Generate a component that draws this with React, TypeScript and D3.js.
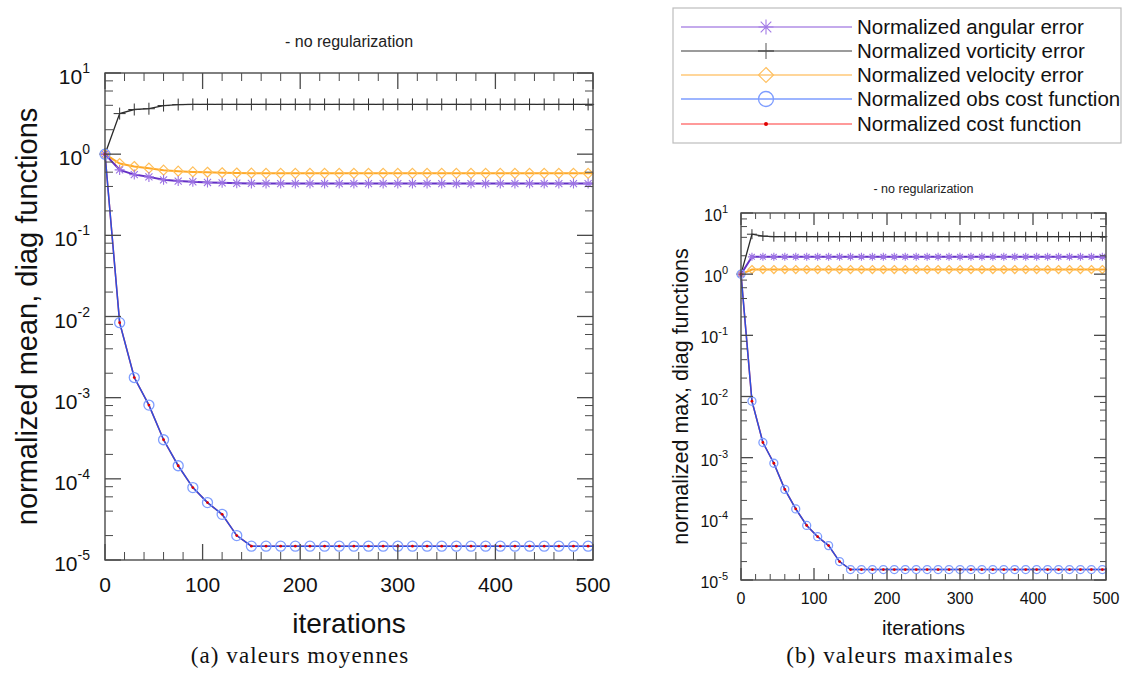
import React from "react";
import * as d3 from "d3";

// ---------- DATA ----------
const iterations = [0, 15, 30, 45, 60, 75, 90, 105, 120, 135, 150, 165, 180, 195, 210, 225, 240, 255, 270, 285, 300, 315, 330, 345, 360, 375, 390, 405, 420, 435, 450, 465, 480, 495, 500];

const meanAngular = [1.0, 0.64, 0.56, 0.525, 0.483, 0.466, 0.457, 0.448, 0.443, 0.438, 0.436, 0.435, 0.434, 0.434, 0.434, 0.434, 0.434, 0.434, 0.434, 0.434, 0.434, 0.434, 0.434, 0.434, 0.434, 0.434, 0.434, 0.434, 0.434, 0.434, 0.434, 0.434, 0.434, 0.434, 0.434];
const meanVorticity = [1.0, 3.16, 3.55, 3.63, 3.97, 4.08, 4.1, 4.1, 4.1, 4.1, 4.1, 4.1, 4.1, 4.1, 4.1, 4.1, 4.1, 4.1, 4.1, 4.1, 4.1, 4.1, 4.1, 4.1, 4.1, 4.1, 4.1, 4.1, 4.1, 4.1, 4.1, 4.1, 4.1, 4.1, 4.1];
const meanVelocity = [1.0, 0.766, 0.704, 0.672, 0.635, 0.617, 0.605, 0.598, 0.59, 0.586, 0.583, 0.581, 0.58, 0.58, 0.58, 0.58, 0.58, 0.58, 0.58, 0.58, 0.58, 0.58, 0.58, 0.58, 0.58, 0.58, 0.58, 0.58, 0.58, 0.58, 0.58, 0.58, 0.58, 0.58, 0.58];
const meanObsCost = [1.0, 0.0084, 0.00177, 0.00081, 0.000303, 0.000145, 0.000078, 0.000051, 0.0000365, 0.00002, 0.0000148, 0.0000148, 0.0000148, 0.0000148, 0.0000148, 0.0000148, 0.0000148, 0.0000148, 0.0000148, 0.0000148, 0.0000148, 0.0000148, 0.0000148, 0.0000148, 0.0000148, 0.0000148, 0.0000148, 0.0000148, 0.0000148, 0.0000148, 0.0000148, 0.0000148, 0.0000148, 0.0000148, 0.0000148];
const meanCost = [1.0, 0.0084, 0.00177, 0.00081, 0.000303, 0.000145, 0.000078, 0.000051, 0.0000365, 0.00002, 0.0000148, 0.0000148, 0.0000148, 0.0000148, 0.0000148, 0.0000148, 0.0000148, 0.0000148, 0.0000148, 0.0000148, 0.0000148, 0.0000148, 0.0000148, 0.0000148, 0.0000148, 0.0000148, 0.0000148, 0.0000148, 0.0000148, 0.0000148, 0.0000148, 0.0000148, 0.0000148, 0.0000148, 0.0000148];

const maxAngular = [1.0, 1.92, 1.92, 1.92, 1.92, 1.92, 1.92, 1.92, 1.92, 1.92, 1.92, 1.92, 1.92, 1.92, 1.92, 1.92, 1.92, 1.92, 1.92, 1.92, 1.92, 1.92, 1.92, 1.92, 1.92, 1.92, 1.92, 1.92, 1.92, 1.92, 1.92, 1.92, 1.92, 1.92, 1.92];
const maxVorticity = [1.0, 4.5, 4.2, 4.1, 4.1, 4.1, 4.1, 4.1, 4.1, 4.1, 4.1, 4.1, 4.1, 4.1, 4.1, 4.1, 4.1, 4.1, 4.1, 4.1, 4.1, 4.1, 4.1, 4.1, 4.1, 4.1, 4.1, 4.1, 4.1, 4.1, 4.1, 4.1, 4.1, 4.1, 4.1];
const maxVelocity = [1.0, 1.19, 1.19, 1.19, 1.19, 1.19, 1.19, 1.19, 1.19, 1.19, 1.19, 1.19, 1.19, 1.19, 1.19, 1.19, 1.19, 1.19, 1.19, 1.19, 1.19, 1.19, 1.19, 1.19, 1.19, 1.19, 1.19, 1.19, 1.19, 1.19, 1.19, 1.19, 1.19, 1.19, 1.19];
const maxObsCost = [1.0, 0.0084, 0.00177, 0.00081, 0.000303, 0.000145, 0.000078, 0.000051, 0.0000365, 0.00002, 0.0000148, 0.0000148, 0.0000148, 0.0000148, 0.0000148, 0.0000148, 0.0000148, 0.0000148, 0.0000148, 0.0000148, 0.0000148, 0.0000148, 0.0000148, 0.0000148, 0.0000148, 0.0000148, 0.0000148, 0.0000148, 0.0000148, 0.0000148, 0.0000148, 0.0000148, 0.0000148, 0.0000148, 0.0000148];
const maxCost = [1.0, 0.0084, 0.00177, 0.00081, 0.000303, 0.000145, 0.000078, 0.000051, 0.0000365, 0.00002, 0.0000148, 0.0000148, 0.0000148, 0.0000148, 0.0000148, 0.0000148, 0.0000148, 0.0000148, 0.0000148, 0.0000148, 0.0000148, 0.0000148, 0.0000148, 0.0000148, 0.0000148, 0.0000148, 0.0000148, 0.0000148, 0.0000148, 0.0000148, 0.0000148, 0.0000148, 0.0000148, 0.0000148, 0.0000148];

const xTicks = [0, 100, 200, 300, 400, 500];
const yExponents = [-5, -4, -3, -2, -1, 0, 1];
const legendLabels = [
  "Normalized angular error",
  "Normalized vorticity error",
  "Normalized velocity error",
  "Normalized obs cost function",
  "Normalized cost function",
];
const plotTitle = "- no regularization";
const xTitle = "iterations";

const SANS = "'Liberation Sans', Arial, Helvetica, sans-serif";
const SERIF = "'Liberation Serif', 'Times New Roman', serif";

type Geo = {
  x0: number; x1: number; y0: number; y1: number;
  major: number; minor: number;
  tickFont: number; expFont: number; labelGap: number; labelBase: number; expDy: number;
  xLabelBase: number;
  yTitle: string; yTitleX: number; yTitleFont: number;
  xTitleY: number; xTitleFont: number;
  titleY: number; titleFont: number;
  caption: string; captionX: number;
  mk: number;
};

function Star({ x, y, r, color, w }: any) {
  const d = r * 0.7071;
  return (
    <path
      d={`M${x - r},${y}L${x + r},${y}M${x},${y - r}L${x},${y + r}M${x - d},${y - d}L${x + d},${y + d}M${x - d},${y + d}L${x + d},${y - d}`}
      stroke={color} strokeWidth={w} fill="none" />
  );
}
function Plus({ x, y, r, color, w }: any) {
  return <path d={`M${x - r},${y}L${x + r},${y}M${x},${y - r}L${x},${y + r}`} stroke={color} strokeWidth={w} fill="none" />;
}
function Diamond({ x, y, r, color, w }: any) {
  return <path d={`M${x},${y - r}L${x + r},${y}L${x},${y + r}L${x - r},${y}Z`} stroke={color} strokeWidth={w} fill="none" />;
}

function Panel({ g, angular, vorticity, velocity, obs, cost }: any) {
  const geo: Geo = g;
  const x = d3.scaleLinear().domain([0, 500]).range([geo.x0, geo.x1]);
  const y = d3.scaleLog().domain([1e-5, 10]).range([geo.y1, geo.y0]);
  const line = (vals: number[]) =>
    d3.line<number>().x((_, i) => x(iterations[i])).y((v) => y(v))(vals) || "";
  const idx = iterations.map((_, i) => i).filter((i) => iterations[i] % 15 === 0);
  const axisColor = "#4a4a4a";

  const minorX = d3.range(0, 501, 20).filter((v) => v % 100 !== 0);
  const minorY: number[] = [];
  yExponents.slice(0, -1).forEach((e) => [2, 4, 6, 8].forEach((m) => minorY.push(m * Math.pow(10, e))));

  const { x0, x1, y0, y1 } = geo;
  return (
    <g>
      <text x={(x0 + x1) / 2} y={geo.titleY} textAnchor="middle" fontFamily={SANS} fontSize={geo.titleFont} fill="#222">{plotTitle}</text>

      {/* data */}
      <path d={line(cost)} stroke="#ff4040" strokeWidth={1.5} fill="none" />
      <path d={line(vorticity)} stroke="#2a2a2a" strokeWidth={1.3} fill="none" />
      {idx.map((i) => <Plus key={"p" + i} x={x(iterations[i])} y={y(vorticity[i])} r={geo.mk + 1} color="#333" w={1} />)}
      <path d={line(velocity)} stroke="#ffa928" strokeWidth={2} fill="none" />
      {idx.map((i) => <Diamond key={"d" + i} x={x(iterations[i])} y={y(velocity[i])} r={geo.mk} color="#ffbf5a" w={1.2} />)}
      <path d={line(angular)} stroke="#6330c4" strokeWidth={2} fill="none" />
      {idx.map((i) => <Star key={"s" + i} x={x(iterations[i])} y={y(angular[i])} r={geo.mk} color="#9c72e4" w={1.1} />)}
      <path d={line(obs)} stroke="#2b4fe0" strokeWidth={1.5} fill="none" />
      {idx.map((i) => <circle key={"c" + i} cx={x(iterations[i])} cy={y(obs[i])} r={geo.mk} stroke="#7f9eff" strokeWidth={1.3} fill="none" />)}
      {idx.map((i) => <circle key={"r" + i} cx={x(iterations[i])} cy={y(cost[i])} r={1.4} fill="#e00000" />)}

      {/* frame & ticks */}
      <rect x={x0} y={y0} width={x1 - x0} height={y1 - y0} fill="none" stroke={axisColor} strokeWidth={1.4} />
      {xTicks.map((t) => (
        <g key={"xt" + t} stroke={axisColor} strokeWidth={1.3}>
          <line x1={x(t)} x2={x(t)} y1={y1} y2={y1 - geo.major} />
          <line x1={x(t)} x2={x(t)} y1={y0} y2={y0 + geo.major} />
        </g>
      ))}
      {minorX.map((t) => (
        <g key={"xm" + t} stroke={axisColor} strokeWidth={1}>
          <line x1={x(t)} x2={x(t)} y1={y1} y2={y1 - geo.minor} />
          <line x1={x(t)} x2={x(t)} y1={y0} y2={y0 + geo.minor} />
        </g>
      ))}
      {yExponents.map((e) => (
        <g key={"yt" + e} stroke={axisColor} strokeWidth={1.3}>
          <line x1={x0} x2={x0 + geo.major} y1={y(Math.pow(10, e))} y2={y(Math.pow(10, e))} />
          <line x1={x1} x2={x1 - geo.major} y1={y(Math.pow(10, e))} y2={y(Math.pow(10, e))} />
        </g>
      ))}
      {minorY.map((v, k) => (
        <g key={"ym" + k} stroke={axisColor} strokeWidth={1}>
          <line x1={x0} x2={x0 + geo.minor} y1={y(v)} y2={y(v)} />
          <line x1={x1} x2={x1 - geo.minor} y1={y(v)} y2={y(v)} />
        </g>
      ))}

      {/* tick labels */}
      {xTicks.map((t) => (
        <text key={"xl" + t} x={x(t)} y={geo.xLabelBase} textAnchor="middle" fontFamily={SANS} fontSize={geo.tickFont} fill="#111">{t}</text>
      ))}
      {yExponents.map((e) => (
        <text key={"yl" + e} x={x0 - geo.labelGap} y={y(Math.pow(10, e)) + geo.labelBase} textAnchor="end" fontFamily={SANS} fontSize={geo.tickFont} fill="#111">
          <tspan>10</tspan>
          <tspan dy={geo.expDy} fontSize={geo.expFont}>{e}</tspan>
        </text>
      ))}

      <text x={(x0 + x1) / 2} y={geo.xTitleY} textAnchor="middle" fontFamily={SANS} fontSize={geo.xTitleFont} fill="#111">{xTitle}</text>
      <text transform={`translate(${geo.yTitleX},${(y0 + y1) / 2}) rotate(-90)`} textAnchor="middle" fontFamily={SANS} fontSize={geo.yTitleFont} fill="#111">{geo.yTitle}</text>

      <text x={geo.captionX} y={663} textAnchor="middle" fontFamily={SERIF} fontSize={23} letterSpacing={1.1} fill="#111">{geo.caption}</text>
    </g>
  );
}

function Legend() {
  const bx = 673, by = 8, bw = 448, bh = 135;
  const rows = [27, 51, 75, 99, 124];
  const lx0 = 681, lx1 = 852, mx = 766, tx = 857;
  const lineColors = ["#b08ee6", "#7a7a7a", "#ffc978", "#7d9cff", "#ff9a9a"];
  return (
    <g>
      <rect x={bx} y={by} width={bw} height={bh} fill="#fff" stroke="#bdbdbd" strokeWidth={1.2} />
      {legendLabels.map((lab, i) => (
        <g key={lab}>
          <line x1={lx0} x2={lx1} y1={rows[i]} y2={rows[i]} stroke={lineColors[i]} strokeWidth={i === 4 ? 2 : 1.3} />
          <text x={tx} y={rows[i] + 7} fontFamily={SANS} fontSize={20.5} fill="#111">{lab}</text>
        </g>
      ))}
      <Star x={mx} y={rows[0]} r={7.5} color="#a27ae6" w={1.1} />
      <line x1={mx} x2={mx} y1={rows[1] - 8} y2={rows[1] + 8} stroke="#555" strokeWidth={1} />
      <line x1={mx - 8} x2={mx + 8} y1={rows[1]} y2={rows[1]} stroke="#555" strokeWidth={1.5} />
      <Diamond x={mx} y={rows[2]} r={7.5} color="#ffc060" w={1.2} />
      <circle cx={mx} cy={rows[3]} r={7.5} stroke="#7d9cff" strokeWidth={1.3} fill="none" />
      <circle cx={mx} cy={rows[4]} r={2} fill="#e00000" />
    </g>
  );
}

const leftGeo: Geo = {
  x0: 105, x1: 593, y0: 73, y1: 560, major: 16, minor: 8,
  tickFont: 21, expFont: 14, labelGap: 15, labelBase: 11, expDy: -11,
  xLabelBase: 592,
  yTitle: "normalized mean, diag functions", yTitleX: 37, yTitleFont: 29,
  xTitleY: 633, xTitleFont: 28,
  titleY: 47, titleFont: 16,
  caption: "(a) valeurs moyennes", captionX: 300,
  mk: 5,
};
const rightGeo: Geo = {
  x0: 741, x1: 1106, y0: 213, y1: 580, major: 12, minor: 6,
  tickFont: 16, expFont: 11, labelGap: 13, labelBase: 8, expDy: -8,
  xLabelBase: 604,
  yTitle: "normalized max, diag functions", yTitleX: 688, yTitleFont: 21.5,
  xTitleY: 635, xTitleFont: 20.5,
  titleY: 193, titleFont: 12.5,
  caption: "(b) valeurs maximales", captionX: 900,
  mk: 4,
};

export default function App() {
  return (
    <svg width={1124} height={675} style={{ position: "absolute", left: 0, top: 0, background: "#fff" }}>
      <rect width={1124} height={675} fill="#fff" />
      <Panel g={leftGeo} angular={meanAngular} vorticity={meanVorticity} velocity={meanVelocity} obs={meanObsCost} cost={meanCost} />
      <Panel g={rightGeo} angular={maxAngular} vorticity={maxVorticity} velocity={maxVelocity} obs={maxObsCost} cost={maxCost} />
      <Legend />
    </svg>
  );
}
